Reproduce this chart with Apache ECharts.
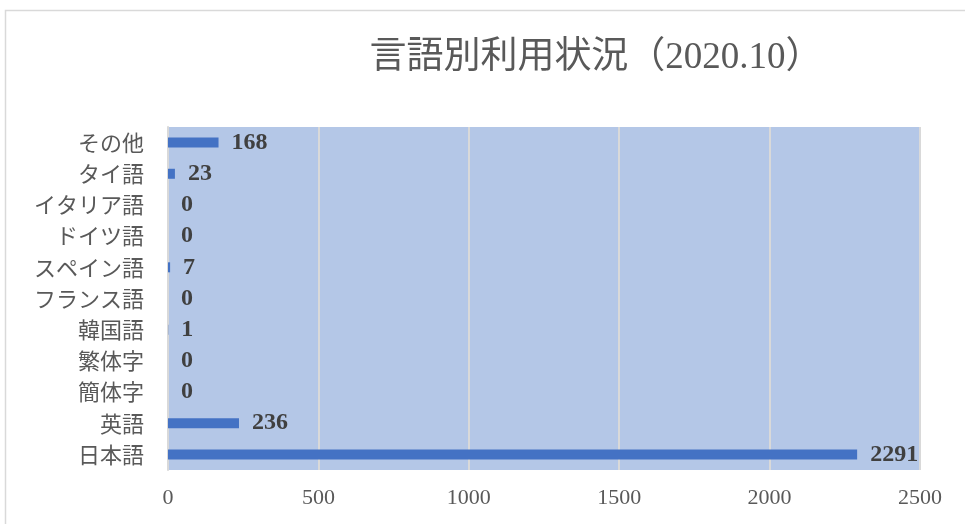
<!DOCTYPE html>
<html><head><meta charset="utf-8">
<script src="https://cdn.jsdelivr.net/npm/echarts@6/dist/echarts.min.js"></script>
<style>html,body{margin:0;padding:0;background:#fff}#c{width:965px;height:524px}</style>
</head><body><div id="c"></div>
<script>
const categories = ['日本語','英語','簡体字','繁体字','韓国語','フランス語','スペイン語','ドイツ語','イタリア語','タイ語','その他'];
const values = [2291,236,0,0,1,0,7,0,0,23,168];
const xTicks = [0,500,1000,1500,2000,2500];
const titleText = '言語別利用状況（2020.10）';

const serif = '"Liberation Serif","DejaVu Serif","Noto Sans CJK JP",serif';
const chart = echarts.init(document.getElementById('c'));
chart.setOption({
  animation:false,
  graphic:[{type:'rect',shape:{x:5.5,y:10.5,width:1000,height:600},style:{fill:'none',stroke:'#d9d9d9',lineWidth:1.5},z:-10}],
  title:{text:titleText,left:591,textAlign:'center',top:35,textStyle:{fontFamily:serif,fontSize:37,fontWeight:'normal',color:'#595959'}},
  grid:{left:168,right:45,top:127,bottom:54,show:true,backgroundColor:'#b4c7e7',borderWidth:0},
  xAxis:{type:'value',min:xTicks[0],max:xTicks[xTicks.length-1],interval:500,
    axisLine:{show:false},axisTick:{show:false},
    splitLine:{lineStyle:{color:'#d9d9d9',width:2}},
    axisLabel:{fontFamily:serif,fontSize:22,color:'#595959',margin:17,formatter:v=>String(v)}},
  yAxis:{type:'category',data:categories,
    axisLine:{show:true,lineStyle:{color:'#d9d9d9',width:2}},axisTick:{show:false},
    axisLabel:{fontFamily:'"Noto Sans CJK JP",sans-serif',fontSize:22,color:'#595959',margin:24}},
  series:[{type:'bar',data:values,barWidth:10,itemStyle:{color:'#4472c4'},
    label:{show:true,position:'right',distance:13,fontFamily:serif,fontSize:24,fontWeight:'bold',color:'#404040'}}]
});
</script></body></html>
